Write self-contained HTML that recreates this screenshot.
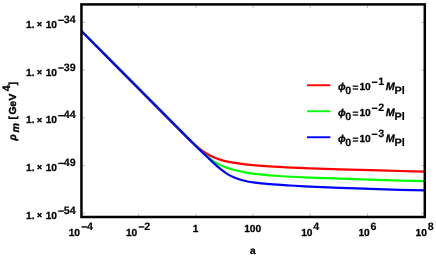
<!DOCTYPE html>
<html><head><meta charset="utf-8"><title>plot</title>
<style>html,body{margin:0;padding:0;background:#fff;overflow:hidden}svg{display:block;will-change:transform}text{font-family:"Liberation Sans",sans-serif;font-weight:bold;fill:#000;stroke:#000;stroke-width:0.28px;stroke-linejoin:round;text-rendering:geometricPrecision}text.s{stroke-width:0.15px}text.x{stroke-width:0.5px}text.r{stroke-width:0.4px}</style>
</head><body>
<svg width="436" height="258" viewBox="0 0 436 258">
<rect x="0" y="0" width="436" height="258" fill="#fff"/>
<defs><clipPath id="c"><rect x="81.45" y="4.40" width="343.35" height="212.60"/></clipPath></defs>
<g clip-path="url(#c)" fill="none" stroke-width="2.2" stroke-linejoin="round">
<path d="M79.65,29.65 C112.90,63.10 146.15,96.55 179.40,130.00 C182.73,133.35 185.93,136.84 189.40,140.05 C192.74,143.14 196.23,146.07 199.80,148.90 C201.77,150.46 203.87,151.87 206.00,153.20 C207.94,154.41 209.92,155.55 212.00,156.50 C214.60,157.69 217.27,158.75 220.00,159.60 C223.28,160.62 226.62,161.47 230.00,162.10 C234.97,163.03 239.98,163.70 245.00,164.30 C250.65,164.97 256.32,165.47 262.00,165.90 C267.66,166.33 273.33,166.62 279.00,166.90 C289.33,167.42 299.66,167.89 310.00,168.30 C320.00,168.69 330.00,168.98 340.00,169.30 C350.00,169.62 360.00,169.92 370.00,170.20 C380.00,170.48 390.00,170.73 400.00,171.00 C408.67,171.23 417.33,171.47 426.00,171.70" stroke="#ff0000"/>
<path d="M79.95,29.45 C114.87,64.58 149.77,99.73 184.70,134.85 C188.02,138.19 191.32,141.56 194.70,144.85 C197.82,147.88 200.97,150.89 204.20,153.80 C206.14,155.54 208.13,157.23 210.20,158.80 C212.13,160.26 214.10,161.69 216.20,162.90 C218.55,164.26 220.99,165.48 223.50,166.50 C226.43,167.69 229.45,168.68 232.50,169.50 C236.62,170.61 240.79,171.57 245.00,172.30 C250.63,173.27 256.32,173.98 262.00,174.60 C267.65,175.22 273.33,175.65 279.00,176.00 C289.33,176.65 299.66,177.14 310.00,177.60 C320.00,178.04 330.00,178.35 340.00,178.70 C350.00,179.05 360.00,179.38 370.00,179.70 C380.00,180.02 390.00,180.33 400.00,180.60 C408.67,180.83 417.33,181.00 426.00,181.20" stroke="#00ff00"/>
<path d="M79.95,29.45 C116.05,65.75 152.14,102.06 188.25,138.35 C191.57,141.69 194.88,145.05 198.25,148.35 C201.63,151.67 205.07,154.93 208.50,158.20 C210.52,160.12 212.53,162.04 214.60,163.90 C216.60,165.70 218.60,167.52 220.70,169.20 C222.64,170.75 224.59,172.30 226.70,173.60 C228.93,174.98 231.28,176.19 233.70,177.20 C236.56,178.39 239.50,179.43 242.50,180.20 C246.61,181.26 250.80,182.09 255.00,182.70 C259.97,183.42 264.99,183.80 270.00,184.20 C276.66,184.73 283.33,185.10 290.00,185.50 C296.66,185.90 303.33,186.28 310.00,186.60 C320.00,187.08 330.00,187.52 340.00,187.90 C350.00,188.28 360.00,188.58 370.00,188.90 C380.00,189.22 390.00,189.51 400.00,189.80 C408.67,190.05 417.33,190.27 426.00,190.50" stroke="#0000ff"/>
</g>
<g stroke="#b4b4b4" stroke-width="0.8">
<line x1="138.62" y1="217.00" x2="138.62" y2="213.30"/>
<line x1="138.62" y1="4.40" x2="138.62" y2="8.10"/>
<line x1="195.84" y1="217.00" x2="195.84" y2="213.30"/>
<line x1="195.84" y1="4.40" x2="195.84" y2="8.10"/>
<line x1="253.06" y1="217.00" x2="253.06" y2="213.30"/>
<line x1="253.06" y1="4.40" x2="253.06" y2="8.10"/>
<line x1="310.28" y1="217.00" x2="310.28" y2="213.30"/>
<line x1="310.28" y1="4.40" x2="310.28" y2="8.10"/>
<line x1="367.50" y1="217.00" x2="367.50" y2="213.30"/>
<line x1="367.50" y1="4.40" x2="367.50" y2="8.10"/>
<line x1="81.45" y1="22.40" x2="85.15" y2="22.40"/>
<line x1="424.80" y1="22.40" x2="421.10" y2="22.40"/>
<line x1="81.45" y1="70.10" x2="85.15" y2="70.10"/>
<line x1="424.80" y1="70.10" x2="421.10" y2="70.10"/>
<line x1="81.45" y1="117.80" x2="85.15" y2="117.80"/>
<line x1="424.80" y1="117.80" x2="421.10" y2="117.80"/>
<line x1="81.45" y1="165.50" x2="85.15" y2="165.50"/>
<line x1="424.80" y1="165.50" x2="421.10" y2="165.50"/>
<line x1="81.45" y1="213.20" x2="85.15" y2="213.20"/>
<line x1="424.80" y1="213.20" x2="421.10" y2="213.20"/>
</g>
<rect x="81.45" y="4.40" width="343.35" height="212.60" fill="none" stroke="#000" stroke-width="2.50"/>
<text x="26.1" y="27.90" font-size="10.2">1.</text>
<text class="x" x="39.5" y="27.35" font-size="8.6" text-anchor="middle">×</text>
<text x="57.0" y="27.90" font-size="10.2" text-anchor="end">10</text>
<rect x="58.25" y="19.60" width="5.6" height="1.4" fill="#000"/>
<text class="s" x="63.85" y="22.95" font-size="10.7">34</text>
<text x="26.1" y="75.60" font-size="10.2">1.</text>
<text class="x" x="39.5" y="75.05" font-size="8.6" text-anchor="middle">×</text>
<text x="57.0" y="75.60" font-size="10.2" text-anchor="end">10</text>
<rect x="58.25" y="67.30" width="5.6" height="1.4" fill="#000"/>
<text class="s" x="63.85" y="70.65" font-size="10.7">39</text>
<text x="26.1" y="123.30" font-size="10.2">1.</text>
<text class="x" x="39.5" y="122.75" font-size="8.6" text-anchor="middle">×</text>
<text x="57.0" y="123.30" font-size="10.2" text-anchor="end">10</text>
<rect x="58.25" y="115.00" width="5.6" height="1.4" fill="#000"/>
<text class="s" x="63.85" y="118.35" font-size="10.7">44</text>
<text x="26.1" y="171.00" font-size="10.2">1.</text>
<text class="x" x="39.5" y="170.45" font-size="8.6" text-anchor="middle">×</text>
<text x="57.0" y="171.00" font-size="10.2" text-anchor="end">10</text>
<rect x="58.25" y="162.70" width="5.6" height="1.4" fill="#000"/>
<text class="s" x="63.85" y="166.05" font-size="10.7">49</text>
<text x="26.1" y="218.70" font-size="10.2">1.</text>
<text class="x" x="39.5" y="218.15" font-size="8.6" text-anchor="middle">×</text>
<text x="57.0" y="218.70" font-size="10.2" text-anchor="end">10</text>
<rect x="58.25" y="210.40" width="5.6" height="1.4" fill="#000"/>
<text class="s" x="63.85" y="213.75" font-size="10.7">54</text>
<text x="68.70" y="235.5" font-size="10.2">10</text>
<rect x="81.50" y="226.25" width="5.6" height="1.4" fill="#000"/>
<text class="s" x="87.10" y="229.60" font-size="10.7">4</text>
<text x="125.92" y="235.5" font-size="10.2">10</text>
<rect x="138.72" y="226.25" width="5.6" height="1.4" fill="#000"/>
<text class="s" x="144.32" y="229.60" font-size="10.7">2</text>
<text x="301.18" y="235.5" font-size="10.2">10</text>
<text class="s" x="313.28" y="229.60" font-size="10.7">4</text>
<text x="358.40" y="235.5" font-size="10.2">10</text>
<text class="s" x="370.50" y="229.60" font-size="10.7">6</text>
<text x="415.62" y="235.5" font-size="10.2">10</text>
<text class="s" x="427.72" y="229.60" font-size="10.7">8</text>
<text x="195.64" y="231.5" font-size="10.2" text-anchor="middle">1</text>
<text x="252.66" y="231.5" font-size="10.2" text-anchor="middle">100</text>
<text x="252.8" y="254.3" font-size="10.2" text-anchor="middle">a</text>
<g transform="translate(16.0,140.4) rotate(-90)">
<text class="r" x="0.0" y="0" font-size="10.2" font-style="italic">ρ</text>
<text class="r" x="7.9" y="3.4" font-size="10.7" font-style="italic" style="stroke-width:0.3px">m</text>
<text class="r" x="21.0" y="0" font-size="10.2">[</text>
<text class="r" x="26.0" y="0" font-size="10.2">G</text>
<text class="r" x="33.6" y="0" font-size="10.2">e</text>
<text class="r" x="40.0" y="0" font-size="10.2">V</text>
<text class="r" x="49.2" y="-6.3" font-size="10.7" style="stroke-width:0.35px">4</text>
<text class="r" x="55.2" y="0" font-size="10.2">]</text>
</g>
<line x1="307" y1="85.25" x2="330.4" y2="85.25" stroke="#ff0000" stroke-width="1.9"/>
<text x="338.0" y="90.20" font-size="10.2" font-style="italic">ϕ</text>
<text class="s" x="345.3" y="93.70" font-size="10.7">0</text>
<text x="352.4" y="90.70" font-size="10.2">=</text>
<text x="359.4" y="90.20" font-size="10.2">10</text>
<rect x="371.85" y="81.60" width="5.6" height="1.4" fill="#000"/>
<text class="s" x="378.35" y="84.70" font-size="10.7">1</text>
<text x="385.8" y="90.20" font-size="10.8" font-style="italic">M</text>
<text class="s" x="394.5" y="94.00" font-size="10.9" style="stroke-width:0.2px">Pl</text>
<line x1="307" y1="111.25" x2="330.4" y2="111.25" stroke="#00ff00" stroke-width="1.9"/>
<text x="338.0" y="116.20" font-size="10.2" font-style="italic">ϕ</text>
<text class="s" x="345.3" y="119.70" font-size="10.7">0</text>
<text x="352.4" y="116.70" font-size="10.2">=</text>
<text x="359.4" y="116.20" font-size="10.2">10</text>
<rect x="371.85" y="107.60" width="5.6" height="1.4" fill="#000"/>
<text class="s" x="378.35" y="110.70" font-size="10.7">2</text>
<text x="385.8" y="116.20" font-size="10.8" font-style="italic">M</text>
<text class="s" x="394.5" y="120.00" font-size="10.9" style="stroke-width:0.2px">Pl</text>
<line x1="307" y1="137.25" x2="330.4" y2="137.25" stroke="#0000ff" stroke-width="1.9"/>
<text x="338.0" y="142.20" font-size="10.2" font-style="italic">ϕ</text>
<text class="s" x="345.3" y="145.70" font-size="10.7">0</text>
<text x="352.4" y="142.70" font-size="10.2">=</text>
<text x="359.4" y="142.20" font-size="10.2">10</text>
<rect x="371.85" y="133.60" width="5.6" height="1.4" fill="#000"/>
<text class="s" x="378.35" y="136.70" font-size="10.7">3</text>
<text x="385.8" y="142.20" font-size="10.8" font-style="italic">M</text>
<text class="s" x="394.5" y="146.00" font-size="10.9" style="stroke-width:0.2px">Pl</text>
</svg>
</body></html>
